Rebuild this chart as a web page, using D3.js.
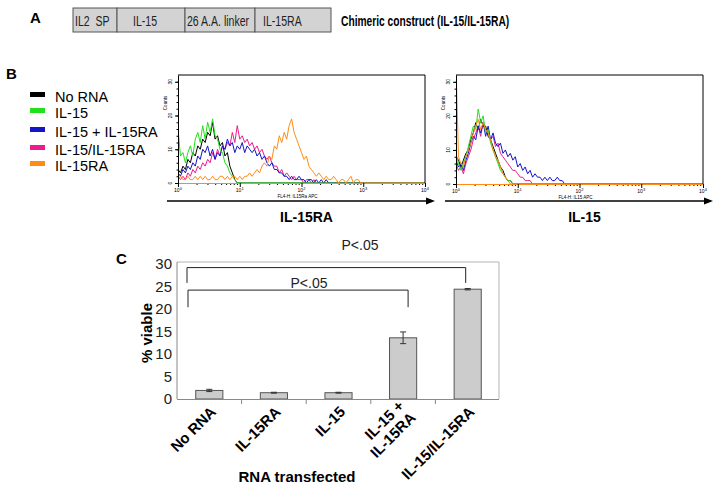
<!DOCTYPE html>
<html lang="en">
<head>
<meta charset="UTF-8">
<title>IL-15/IL-15RA chimeric construct</title>
<style>
  body { margin: 0; background: #fff; }
  svg { display: block; font-family: "Liberation Sans", Arial, sans-serif; }
  .letter { font-weight: bold; font-size: 15px; }
</style>
</head>
<body>
<svg id="fig" width="715" height="487"></svg>
<script src="https://d3js.org/d3.v7.min.js"></script>
<script>
// ---- panel A: construct ----
const segNames = ['IL2  SP', 'IL-15', '26 A.A. linker', 'IL-15RA'];
const segLengths = [44, 68, 70, 76];

// ---- panel B: histograms (counts per bin, bins of 0.04 log10 units from 10^0) ----
const binStep = 0.04;
const seriesNames = ['No RNA', 'IL-15', 'IL-15 + IL-15RA', 'IL-15/IL-15RA', 'IL-15RA'];

// stained for IL-15RA
const ra_noRna = [4, 3, 5, 4, 7, 6, 9, 8, 11, 10, 13, 12, 15, 14, 18, 13, 14, 11, 12, 8, 9, 5, 3, 1, 0];
const ra_il15 = [16, 8, 9, 6, 9, 11, 8, 13, 15, 12, 17, 13, 18, 15, 19, 14, 13, 10, 9, 6, 5, 3, 2, 1, 0];
const ra_both = [3, 2, 4, 3, 5, 4, 6, 5, 8, 7, 10, 9, 11, 8, 10, 7, 9, 8, 11, 10,
  13, 11, 12, 9, 11, 10, 12, 9, 11, 10, 9, 10, 8, 9, 7, 8, 6, 5, 6, 4,
  4, 3, 3, 2, 2, 1, 2, 1, 1, 2, 1, 1, 0, 1, 1, 0, 1, 0, 1, 0, 1, 0, 0];
const ra_chimera = [2, 1, 2, 1, 3, 2, 4, 3, 5, 4, 6, 5, 7, 6, 9, 7, 10, 8, 11, 10,
  12, 11, 15, 12, 17, 13, 14, 12, 13, 11, 12, 10, 11, 9, 10, 8, 7, 8, 6, 5,
  5, 3, 4, 2, 3, 2, 1, 2, 1, 1, 1, 0, 1, 1, 0, 1, 0, 0];
const ra_il15ra = [1, 2, 1, 1, 2, 1, 1, 2, 1, 2, 1, 2, 1, 1, 2, 1, 1, 2, 2, 1,
  2, 1, 2, 2, 1, 2, 1, 2, 2, 3, 2, 3, 4, 3, 5, 6, 5, 8, 7, 11,
  10, 14, 12, 15, 13, 17, 19, 15, 13, 11, 9, 7, 8, 5, 4, 3, 2, 3, 2, 1,
  2, 1, 1, 2, 1, 0, 1, 1, 0, 1, 2, 0, 1, 1, 0];

// stained for IL-15
const il_noRna = [8, 7, 5, 7, 9, 10, 13, 15, 18, 16, 19, 17, 17, 14, 13, 11, 9, 7, 5, 4, 2, 1, 1, 0];
const il_il15 = [9, 6, 4, 6, 8, 11, 14, 17, 16, 22, 18, 20, 15, 16, 12, 10, 8, 6, 4, 3, 2, 1, 1, 0];
const il_both = [7, 5, 6, 4, 7, 9, 12, 14, 13, 17, 15, 18, 14, 17, 13, 15, 12, 11, 12, 9,
  10, 8, 9, 7, 8, 5, 6, 4, 5, 3, 4, 2, 3, 2, 2, 1, 2, 1, 2, 1, 1, 2, 1, 1, 0];
const il_chimera = [6, 4, 5, 3, 6, 8, 10, 13, 15, 17, 14, 18, 16, 15, 13, 14, 11, 12, 9, 8,
  7, 6, 5, 4, 4, 3, 2, 2, 1, 1, 1, 0];
const il_il15ra = [35, 8, 6, 5, 8, 10, 12, 15, 17, 19, 16, 18, 16, 15, 13, 10, 8, 7, 5, 3, 2, 1, 0];

// ---- panel C: viability ----
const categories = ['No RNA', 'IL-15RA', 'IL-15', 'IL-15 +\nIL-15RA', 'IL-15/IL-15RA'];
const viable = [1.9, 1.4, 1.4, 13.6, 24.4];
const viableErr = [0.25, 0.1, 0.1, 1.3, 0.15];
const yTicksC = [0, 5, 10, 15, 20, 25, 30];
// significance brackets: [from category index, to category index, bracket level, leg end]
const brackets = [[0, 4, 29.2, 25.8], [0, 3, 24.2, 20.4]];

const colors = ['#000000', '#22e01c', '#1414c8', '#ec1c8c', '#ff8c14'];
const drawOrder = [0, 3, 2, 1, 4];

const svg = d3.select('#fig');

// =============== A ===============
svg.append('text').attr('class', 'letter').attr('x', 30).attr('y', 23).text('A');

const xA = d3.scaleLinear().domain([0, d3.sum(segLengths)]).range([73, 331]);
const segStart = [0, ...d3.cumsum(segLengths)];
const textInset = [2, 16, 2, 8];
const gA = svg.append('g');
gA.selectAll('rect').data(segNames).join('rect')
  .attr('x', (d, i) => xA(segStart[i]))
  .attr('y', 8)
  .attr('width', (d, i) => xA(segStart[i + 1]) - xA(segStart[i]))
  .attr('height', 24)
  .attr('fill', '#d3d3d3')
  .attr('stroke', '#555')
  .attr('stroke-width', 1);
// condensed look: squeeze horizontally
gA.selectAll('text').data(segNames).join('text')
  .attr('transform', (d, i) => `translate(${xA(segStart[i]) + textInset[i]},26) scale(0.68,1)`)
  .attr('font-size', 15.5)
  .attr('fill', '#222')
  .style('white-space', 'pre')
  .text(d => d);
svg.append('text')
  .attr('transform', 'translate(341,26) scale(0.66,1)')
  .attr('font-size', 15.5).attr('font-weight', 'bold')
  .text('Chimeric construct (IL-15/IL-15RA)');

// =============== B ===============
svg.append('text').attr('class', 'letter').attr('x', 6).attr('y', 79).text('B');

const legend = svg.append('g');
seriesNames.forEach((name, i) => {
  const ly = [97, 113, 132, 150, 166][i];
  legend.append('rect').attr('x', 30).attr('y', ly - 5).attr('width', 15).attr('height', 5).attr('fill', colors[i]);
  legend.append('text').attr('x', 55).attr('y', ly + 5).attr('font-size', 14.5).text(name);
});

function drawHist(id, x0, x1, yTop, yBot, sets, title, chan) {
  const g = svg.append('g');
  const x = d3.scaleLog().domain([1, 1e4]).range([x0, x1]);
  const y = d3.scaleLinear().domain([0, 32]).range([yBot, yTop]);

  g.append('clipPath').attr('id', id)
    .append('rect').attr('x', x0).attr('y', yTop).attr('width', x1 - x0).attr('height', yBot - yTop + 1);

  const line = d3.line().x(d => x(d[0])).y(d => y(d[1]));
  drawOrder.forEach(k => {
    const pts = [[1, 0], ...sets[k].map((v, i) => [Math.pow(10, i * binStep), v]), [1e4, 0]];
    g.append('path')
      .attr('clip-path', `url(#${id})`)
      .attr('d', line(pts))
      .attr('fill', 'none')
      .attr('stroke', colors[k])
      .attr('stroke-width', 1);
  });

  // frame top and right
  g.append('path').attr('d', `M${x0},${yTop}H${x1}V${yBot}`).attr('fill', 'none').attr('stroke', '#000').attr('stroke-width', 1);

  const majors = [1, 10, 100, 1000, 10000];
  const minors = x.ticks().filter(t => !majors.includes(t));
  g.append('g').attr('transform', `translate(0,${yBot})`)
    .call(d3.axisBottom(x).tickValues(minors).tickSize(2).tickSizeOuter(0).tickFormat(''))
    .call(a => a.select('.domain').remove());
  g.append('g').attr('transform', `translate(0,${yBot})`)
    .call(d3.axisBottom(x).tickValues(majors).tickSize(4).tickSizeOuter(0).tickFormat(''))
    .call(a => a.select('.domain').attr('stroke', colors[4]));
  majors.forEach((m, i) => {
    const t = g.append('text').attr('x', x(m)).attr('y', yBot + 9).attr('font-size', 5).attr('text-anchor', 'middle');
    t.append('tspan').text('10');
    t.append('tspan').attr('dy', -2).attr('font-size', 4).text(i);
  });

  g.append('g').attr('transform', `translate(${x0},0)`)
    .call(d3.axisLeft(y).tickValues(d3.range(0, 32, 2)).tickSize(1.5).tickSizeOuter(0).tickFormat(''))
    .call(a => a.select('.domain').remove());
  g.append('g').attr('transform', `translate(${x0},0)`)
    .call(d3.axisLeft(y).tickValues([0, 10, 20, 30]).tickSize(3).tickSizeOuter(0).tickFormat(''));
  [0, 10, 20, 30].forEach(v => {
    g.append('text').attr('transform', `translate(${x0 - 6},${y(v)}) rotate(-90)`)
      .attr('font-size', 5).attr('text-anchor', 'middle').text(v);
  });
  g.append('text').attr('transform', `translate(${x0 - 11},${yTop + 28}) rotate(-90)`)
    .attr('font-size', 4.5).attr('text-anchor', 'middle').text('Counts');
  g.append('text').attr('x', x(100) - 4).attr('y', yBot + 15).attr('font-size', 4.5)
    .attr('text-anchor', 'middle').text(chan);

  // arrow and title
  g.append('line').attr('x1', x0 - 11).attr('x2', x1 + 2).attr('y1', 201).attr('y2', 201)
    .attr('stroke', '#000').attr('stroke-width', 1.4);
  g.append('path').attr('d', `M${x1 + 10},201L${x1 + 1},197.5L${x1 + 1},204.5Z`).attr('fill', '#000');
  g.append('text').attr('x', (x0 + x1) / 2 + 5).attr('y', 222)
    .attr('font-size', 14).attr('font-weight', 'bold').attr('text-anchor', 'middle').text(title);
}

drawHist('c1', 178, 425, 75, 183, [ra_noRna, ra_il15, ra_both, ra_chimera, ra_il15ra], 'IL-15RA', 'FL4-H: IL15Ra APC');
drawHist('c2', 456, 703, 75, 184, [il_noRna, il_il15, il_both, il_chimera, il_il15ra], 'IL-15', 'FL4-H: IL15 APC');

// =============== C ===============
svg.append('text').attr('class', 'letter').attr('x', 116).attr('y', 264).attr('font-size', 16).text('C');

const xC = d3.scaleBand().domain(categories).range([177, 500]).paddingInner(0.58).paddingOuter(0.29);
const yC = d3.scaleLinear().domain([0, 30]).range([399, 264]);
const gC = svg.append('g');

// plot area border
gC.append('path').attr('d', `M177,262H499V399`).attr('fill', 'none').attr('stroke', '#b4b4b4').attr('stroke-width', 1);

gC.selectAll('rect.bar').data(categories).join('rect')
  .attr('class', 'bar')
  .attr('x', d => xC(d))
  .attr('y', (d, i) => yC(viable[i]))
  .attr('width', xC.bandwidth())
  .attr('height', (d, i) => yC(0) - yC(viable[i]))
  .attr('fill', '#cccccc')
  .attr('stroke', '#555')
  .attr('stroke-width', 1);

categories.forEach((c, i) => {
  const cx = xC(c) + xC.bandwidth() / 2;
  const y1 = yC(viable[i] + viableErr[i]);
  const y2 = yC(viable[i] - viableErr[i]);
  gC.append('path').attr('d', `M${cx},${y1}V${y2}M${cx - 3},${y1}H${cx + 3}M${cx - 3},${y2}H${cx + 3}`)
    .attr('stroke', '#333').attr('stroke-width', 1).attr('fill', 'none');
});

gC.append('g').attr('transform', 'translate(177,0)')
  .call(d3.axisLeft(yC).tickValues(yTicksC).tickSize(0).tickPadding(5))
  .call(a => a.select('.domain').attr('stroke', '#888').attr('d', `M0,262V399`))
  .call(a => a.selectAll('text').attr('font-size', 15).attr('font-family', 'Liberation Sans, Arial, sans-serif').attr('fill', '#222'));

// x baseline with category separators
const step = xC.step();
const xAxis = gC.append('g');
xAxis.append('line').attr('x1', 177).attr('x2', 499).attr('y1', 399.5).attr('y2', 399.5).attr('stroke', '#888');
categories.slice(1).forEach(c => {
  const bx = xC(c) - step * xC.paddingInner() / 2;
  xAxis.append('line').attr('x1', bx).attr('x2', bx).attr('y1', 399.5).attr('y2', 404).attr('stroke', '#888');
});

categories.forEach(c => {
  const cx = xC(c) + xC.bandwidth() / 2;
  const lines = c.split('\n');
  const t = gC.append('text')
    .attr('transform', `translate(${cx + 4},${409}) rotate(-45)`)
    .attr('text-anchor', 'end')
    .attr('font-size', 15).attr('font-weight', 'bold');
  lines.forEach((l, j) => {
    t.append('tspan').attr('x', 0)
      .attr('dy', j === 0 ? `${0.35 - (lines.length - 1) * 0.55}em` : '1.1em')
      .text(l);
  });
});

gC.append('text').attr('x', 297).attr('y', 482).attr('text-anchor', 'middle')
  .attr('font-size', 15).attr('font-weight', 'bold').text('RNA transfected');
gC.append('text').attr('transform', 'translate(152,333) rotate(-90)').attr('text-anchor', 'middle')
  .attr('font-size', 15).attr('font-weight', 'bold').text('% viable');

// brackets
const bracketText = [[360, 250], [309, 288]];
brackets.forEach((b, i) => {
  const xl = xC.range()[0] + 10 + i;
  const xr = xC(categories[b[1]]) + xC.bandwidth() / 2 + (i === 1 ? 5 : -2);
  gC.append('path')
    .attr('d', `M${xl},${yC(b[3])}V${yC(b[2])}H${xr}V${yC(b[3])}`)
    .attr('fill', 'none').attr('stroke', '#222').attr('stroke-width', 1);
  gC.append('text').attr('x', bracketText[i][0]).attr('y', bracketText[i][1])
    .attr('text-anchor', 'middle').attr('font-size', 14).attr('fill', '#222').text('P<.05');
});
</script>
</body>
</html>
